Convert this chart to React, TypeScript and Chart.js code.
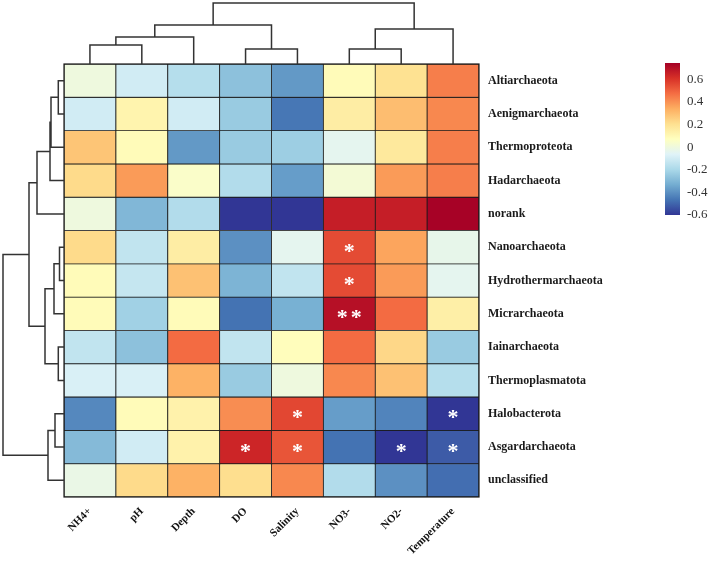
import React, { useEffect, useRef } from "react";
import { Chart, registerables } from "chart.js";
Chart.register(...registerables);

const columns = ["NH4+", "pH", "Depth", "DO", "Salinity", "NO3-", "NO2-", "Temperature"];
const rows = [
  "Altiarchaeota", "Aenigmarchaeota", "Thermoproteota", "Hadarchaeota", "norank",
  "Nanoarchaeota", "Hydrothermarchaeota", "Micrarchaeota", "Iainarchaeota",
  "Thermoplasmatota", "Halobacterota", "Asgardarchaeota", "unclassified",
];
const values: number[][] = [
  [0.0, -0.1, -0.17, -0.27, -0.38, 0.09, 0.2, 0.44],
  [-0.1, 0.12, -0.1, -0.24, -0.46, 0.15, 0.3, 0.42],
  [0.28, 0.09, -0.38, -0.24, -0.23, -0.04, 0.17, 0.44],
  [0.22, 0.38, 0.05, -0.18, -0.37, 0.02, 0.38, 0.44],
  [0.0, -0.3, -0.18, -0.6, -0.6, 0.66, 0.66, 0.74],
  [0.22, -0.14, 0.15, -0.4, -0.04, 0.55, 0.36, -0.03],
  [0.09, -0.13, 0.29, -0.31, -0.14, 0.55, 0.38, -0.04],
  [0.09, -0.22, 0.09, -0.47, -0.32, 0.7, 0.48, 0.14],
  [-0.14, -0.27, 0.48, -0.14, 0.08, 0.48, 0.23, -0.24],
  [-0.08, -0.08, 0.33, -0.24, 0.0, 0.42, 0.29, -0.17],
  [-0.42, 0.09, 0.13, 0.41, 0.56, -0.37, -0.43, -0.6],
  [-0.29, -0.1, 0.13, 0.64, 0.53, -0.47, -0.6, -0.52],
  [-0.02, 0.22, 0.33, 0.21, 0.42, -0.18, -0.4, -0.48],
];
// [row, col, marker]
const starCells: [number, number, string][] = [
  [5, 5, "*"], [6, 5, "*"], [7, 5, "**"], [10, 4, "*"], [10, 7, "*"],
  [11, 3, "*"], [11, 4, "*"], [11, 6, "*"], [11, 7, "*"],
];
// dendrogram merges: [childA, childB, height]; ids >= n refer to earlier merges
const colMerges: [number, number, number][] = [
  [0, 1, 19], [8, 2, 27], [3, 4, 15], [9, 10, 39], [5, 6, 15], [12, 7, 35], [11, 13, 61],
];
const rowMerges: [number, number, number][] = [
  [0, 1, 5.7], [13, 2, 13], [14, 3, 14], [15, 4, 27], [5, 6, 4.5], [17, 7, 10],
  [8, 9, 5.7], [18, 19, 19], [16, 20, 35], [10, 11, 9], [22, 12, 16], [21, 23, 61],
];
const colorbarTicks = [0.6, 0.4, 0.2, 0, -0.2, -0.4, -0.6];
const colorMin = -0.6;
const colorMax = 0.745;
const palette = [
  "#313695", "#4575b4", "#74add1", "#abd9e9", "#e0f3f8", "#ffffbf",
  "#fee090", "#fdae61", "#f46d43", "#d73027", "#a50026",
];

function hexToRgb(h: string) {
  return [parseInt(h.slice(1, 3), 16), parseInt(h.slice(3, 5), 16), parseInt(h.slice(5, 7), 16)];
}
function colorFor(v: number) {
  let t = (v - colorMin) / (colorMax - colorMin);
  t = Math.max(0, Math.min(1, t));
  const s = t * (palette.length - 1);
  const i = Math.min(palette.length - 2, Math.floor(s));
  const f = s - i;
  const a = hexToRgb(palette[i]);
  const b = hexToRgb(palette[i + 1]);
  const c = a.map((x, k) => Math.round(x + (b[k] - x) * f));
  return `rgb(${c[0]},${c[1]},${c[2]})`;
}

function drawTree(
  ctx: CanvasRenderingContext2D,
  n: number,
  merges: [number, number, number][],
  leafPos: (i: number) => number,
  pt: (p: number, h: number) => [number, number]
) {
  const pos: number[] = [];
  const hts: number[] = [];
  for (let i = 0; i < n; i++) { pos.push(leafPos(i)); hts.push(0); }
  ctx.beginPath();
  merges.forEach(([a, b, h]) => {
    const p1 = pt(pos[a], hts[a]);
    const p2 = pt(pos[a], h);
    const p3 = pt(pos[b], h);
    const p4 = pt(pos[b], hts[b]);
    ctx.moveTo(p1[0], p1[1]);
    ctx.lineTo(p2[0], p2[1]);
    ctx.lineTo(p3[0], p3[1]);
    ctx.lineTo(p4[0], p4[1]);
    pos.push((pos[a] + pos[b]) / 2);
    hts.push(h);
  });
  ctx.stroke();
}

const extrasPlugin = {
  id: "extras",
  afterDatasetsDraw(chart: any) {
    const { ctx, chartArea, scales } = chart;
    const x = scales.x;
    const y = scales.y;
    ctx.save();
    // outer frame
    ctx.strokeStyle = "#1a1a1a";
    ctx.lineWidth = 1.2;
    ctx.strokeRect(chartArea.left, chartArea.top, chartArea.right - chartArea.left, chartArea.bottom - chartArea.top);

    // significance markers
    ctx.fillStyle = "#ffffff";
    ctx.font = "bold 22px 'Liberation Serif', serif";
    ctx.textAlign = "center";
    ctx.textBaseline = "middle";
    starCells.forEach(([r, c, m]) => {
      const cx = x.getPixelForValue(c);
      const cy = y.getPixelForValue(r + 0.5) + 5;
      if (m.length === 1) ctx.fillText("*", cx, cy);
      else {
        ctx.fillText("*", cx - 7, cy);
        ctx.fillText("*", cx + 7, cy);
      }
    });

    // dendrograms
    const maxCol = Math.max(...colMerges.map((m) => m[2]));
    const maxRow = Math.max(...rowMerges.map((m) => m[2]));
    ctx.strokeStyle = "#333333";
    ctx.lineWidth = 1.5;
    const topK = (chartArea.top - 3) / maxCol;
    drawTree(ctx, columns.length, colMerges, (i) => x.getPixelForValue(i), (p, h) => [p, chartArea.top - h * topK]);
    const leftK = (chartArea.left - 3) / maxRow;
    drawTree(ctx, rows.length, rowMerges, (i) => y.getPixelForValue(i + 0.5), (p, h) => [chartArea.left - h * leftK, p]);

    // colour bar
    const cbL = 665, cbW = 15, cbT = chartArea.top - 1, cbB = 215;
    const g = ctx.createLinearGradient(0, cbB, 0, cbT);
    palette.forEach((c, i) => g.addColorStop(i / (palette.length - 1), c));
    ctx.fillStyle = g;
    ctx.fillRect(cbL, cbT, cbW, cbB - cbT);
    ctx.fillStyle = "#333333";
    ctx.font = "13px 'Liberation Serif', serif";
    ctx.textAlign = "left";
    ctx.textBaseline = "middle";
    colorbarTicks.forEach((v) => {
      const ty = cbB - ((v - colorMin) / (colorMax - colorMin)) * (cbB - cbT);
      ctx.fillText(v === 0 ? "0" : String(v), cbL + cbW + 7, ty);
    });
    ctx.restore();
  },
};

export default function App() {
  const ref = useRef<HTMLCanvasElement>(null);
  useEffect(() => {
    document.body.style.margin = "0";
    const canvas = ref.current!;
    const datasets = rows.map((_, r) => ({
      label: rows[r],
      data: columns.map(() => [r, r + 1]),
      backgroundColor: values[r].map(colorFor),
      borderColor: "#1a1a1a",
      borderWidth: 0.8,
      borderSkipped: false,
      barPercentage: 1,
      categoryPercentage: 1,
      grouped: false,
    }));
    const chart = new Chart(canvas, {
      type: "bar",
      data: { labels: columns, datasets: datasets as any },
      options: {
        responsive: false,
        animation: false,
        devicePixelRatio: 1,
        layout: { padding: { left: 64, top: 64, right: 0, bottom: 0 } },
        plugins: { legend: { display: false }, tooltip: { enabled: false } },
        scales: {
          x: {
            type: "category",
            offset: true,
            grid: { display: false, drawTicks: false },
            border: { display: false },
            ticks: {
              color: "#111",
              font: { family: "'Liberation Serif', serif", size: 11, weight: "bold" },
              minRotation: 45,
              maxRotation: 45,
              padding: 8,
            },
            afterFit: (s: any) => { s.height = 64; },
          },
          y: {
            type: "linear",
            position: "right",
            reverse: true,
            min: 0,
            max: rows.length,
            grid: { display: false, drawTicks: false },
            border: { display: false },
            afterBuildTicks: (s: any) => { s.ticks = rows.map((_, i) => ({ value: i + 0.5 })); },
            ticks: {
              color: "#1a1a1a",
              padding: 9,
              autoSkip: false,
              font: { family: "'Liberation Serif', serif", size: 12, weight: "bold" },
              callback: (v: any) => rows[Math.floor(Number(v))] ?? "",
            },
            afterFit: (s: any) => { s.width = 230; },
          },
        },
      },
      plugins: [extrasPlugin],
    });
    return () => chart.destroy();
  }, []);
  return <canvas ref={ref} width={709} height={561} style={{ display: "block", width: 709, height: 561 }} />;
}
